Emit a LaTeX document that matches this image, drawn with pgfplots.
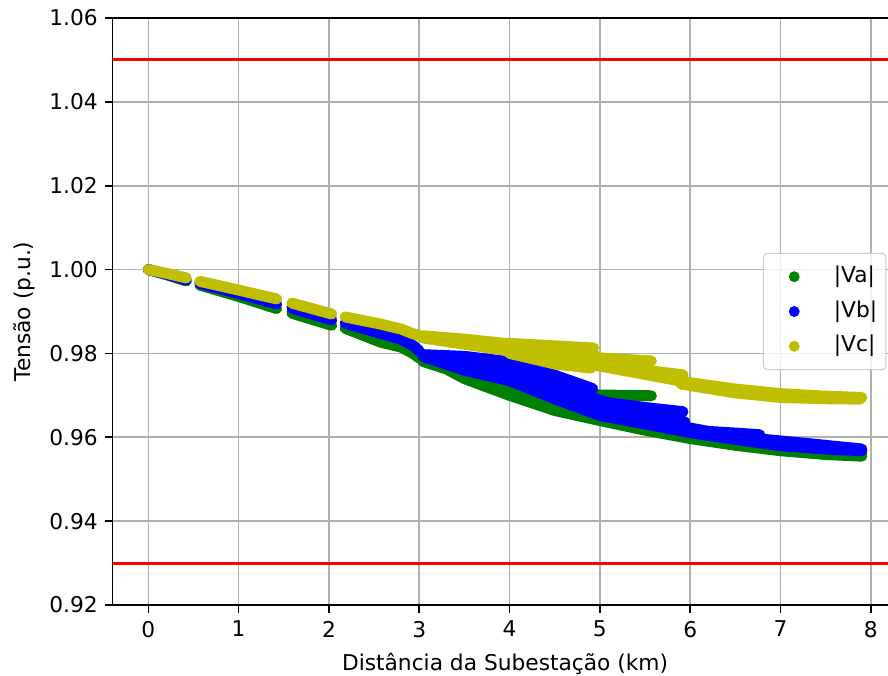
\documentclass[border=0pt]{standalone}
\usepackage{fontspec}
\setmainfont{DejaVu Sans}
\usepackage{pgfplots}
\pgfplotsset{compat=1.18}
\definecolor{cVa}{HTML}{008000}
\definecolor{cVb}{HTML}{0000FF}
\definecolor{cVc}{HTML}{BFBF00}
\definecolor{gridc}{HTML}{B0B0B0}
\definecolor{legc}{HTML}{CCCCCC}
\newcommand\fs{\fontsize{16.3pt}{19.6pt}\selectfont}
\pgfplotsset{sc/.style={line width=8.25pt, line cap=round, line join=round, mark=none, forget plot},
  dotlegend/.style={legend image code/.code={\path[draw=none,fill=none] (0pt,0pt) -- (46.2pt,0pt); \fill[draw=none, fill opacity=1] (16.5pt,0pt) circle (4.1pt);}}}
\begin{document}
\begin{tikzpicture}
\begin{axis}[
  scale only axis, width=588.6pt, height=440.25pt,
  xmin=-0.395, xmax=8.295, ymin=0.92, ymax=1.06,
  xtick={0,1,2,3,4,5,6,7,8},
  ytick={0.92,0.94,0.96,0.98,1.00,1.02,1.04,1.06},
  yticklabel={\pgfmathprintnumber[fixed,fixed zerofill,precision=2]{\tick}},
  /pgf/number format/assume math mode=true,
  tick pos=left, tick align=outside, major tick length=5.8pt,
  tick style={black, line width=1.2pt},
  axis line style={black, line width=1.2pt},
  grid=major, grid style={gridc, line width=1.2pt},
  ticklabel style={font=\fs, inner sep=0pt},
  yticklabel style={anchor=east, xshift=-5.2pt},
  xticklabel style={anchor=north, yshift=-5.9pt},
  xlabel={Distância da Subestação (km)},
  ylabel={Tensão (p.u.)},
  label style={font=\fs},
  xlabel style={at={(axis description cs:0.5,-0.112)}, anchor=base},
  ylabel style={at={(axis description cs:-0.113,0.5)}, anchor=center},
  legend style={at={(1,0.5)}, anchor=east, xshift=-8.25pt, font=\fs, draw=legc, line width=0.75pt, rounded corners=3pt, fill=white, fill opacity=0.8, draw opacity=1, text opacity=1, inner xsep=6.6pt, inner ysep=9.3pt, row sep=9.6pt, column sep=0pt, nodes={inner sep=0pt, text height=12.4pt, text depth=4.1pt}, cells={anchor=west}},
]
% limits
\addplot[red, line width=2.25pt, forget plot] coordinates {(-0.395,1.05) (8.295,1.05)};
\addplot[red, line width=2.25pt, forget plot] coordinates {(-0.395,0.93) (8.295,0.93)};
% |Va|
\addplot[sc, cVa] coordinates {(0,1.0000) (0.20,0.9988) (0.42,0.9973)};
\addplot[sc, cVa] coordinates {(0.57,0.9963) (1.00,0.9936) (1.42,0.9907)};
\addplot[sc, cVa] coordinates {(1.59,0.9896) (2.03,0.9867)};
\addplot[sc, cVa] coordinates {(2.18,0.9860) (2.57,0.9827) (2.80,0.9815) (2.93,0.9800) (3.00,0.9789)};
\addplot[sc, cVa] coordinates {(3.04,0.9781) (3.30,0.9763) (3.50,0.9740) (4.00,0.9700) (4.50,0.9664) (5.00,0.9640) (5.50,0.9617) (6.00,0.9597) (6.50,0.9581) (7.00,0.9568) (7.50,0.9559) (7.90,0.9555)};
\addplot[sc, cVa] coordinates {(3.04,0.9785) (3.50,0.9752) (4.00,0.9718) (4.50,0.9680) (5.00,0.9652) (5.50,0.9630) (6.00,0.9607) (6.50,0.9590) (7.00,0.9576) (7.50,0.9566) (7.90,0.9562)};
\addplot[sc, cVa] coordinates {(4.50,0.9712) (4.95,0.9701) (5.57,0.9699)};
% |Vb|
\addplot[sc, cVb] coordinates {(0,1.0000) (0.20,0.9989) (0.42,0.9975)};
\addplot[sc, cVb] coordinates {(0.57,0.9967) (1.00,0.9943) (1.42,0.9918)};
\addplot[sc, cVb] coordinates {(1.59,0.9908) (2.03,0.9880)};
\addplot[sc, cVb] coordinates {(2.18,0.9872) (2.57,0.9848) (2.80,0.9834) (2.93,0.9819) (3.00,0.9806)};
\addplot[sc, cVb] coordinates {(3.04,0.9797) (3.50,0.9793) (4.00,0.9780) (4.50,0.9748) (4.92,0.9716)};
\addplot[sc, cVb] coordinates {(3.04,0.9795) (3.50,0.9780) (4.00,0.9762) (4.50,0.9728) (4.90,0.9695) (5.10,0.9682) (5.50,0.9671) (5.92,0.9661)};
\addplot[sc, cVb] coordinates {(3.04,0.9794) (3.50,0.9768) (4.00,0.9748) (4.50,0.9710) (5.00,0.9668) (5.50,0.9649) (5.94,0.9637)};
\addplot[sc, cVb] coordinates {(3.04,0.9793) (3.50,0.9760) (4.00,0.9735) (4.50,0.9692) (5.00,0.9652) (5.50,0.9632) (6.00,0.9611) (6.50,0.9595) (7.00,0.9580) (7.50,0.9572) (7.90,0.9568)};
\addplot[sc, cVb] coordinates {(5.50,0.9641) (5.90,0.9626) (6.20,0.9614) (6.50,0.9610) (6.77,0.9606)};
\addplot[sc, cVb] coordinates {(6.77,0.9596) (7.30,0.9585) (7.90,0.9572)};
% |Vc|
\addplot[sc, cVc] coordinates {(0,1.0000) (0.20,0.9991) (0.42,0.9980)};
\addplot[sc, cVc] coordinates {(0.57,0.9972) (1.00,0.9951) (1.42,0.9930)};
\addplot[sc, cVc] coordinates {(1.59,0.9920) (2.03,0.9894)};
\addplot[sc, cVc] coordinates {(2.18,0.9887) (2.57,0.9870) (2.80,0.9858) (2.93,0.9847) (3.00,0.9843)};
\addplot[sc, cVc] coordinates {(3.04,0.9842) (3.50,0.9834) (3.90,0.9825) (4.50,0.9818) (4.93,0.9813)};
\addplot[sc, cVc] coordinates {(3.90,0.9816) (4.50,0.9807) (4.93,0.9802)};
\addplot[sc, cVc] coordinates {(3.50,0.9828) (4.00,0.9812) (4.50,0.9798) (4.93,0.9790) (5.57,0.9782)};
\addplot[sc, cVc] coordinates {(4.00,0.9800) (4.50,0.9775) (4.90,0.9765)};
\addplot[sc, cVc] coordinates {(4.50,0.9790) (5.00,0.9774) (5.50,0.9760) (5.92,0.9749)};
\addplot[sc, cVc] coordinates {(3.04,0.9837) (3.50,0.9822) (4.00,0.9806) (4.50,0.9786) (5.00,0.9770) (5.50,0.9750) (6.00,0.9730) (6.50,0.9715) (7.00,0.9704) (7.50,0.9698) (7.90,0.9695)};
\addplot[sc, cVc] coordinates {(5.90,0.9727) (6.50,0.9706) (7.00,0.9695) (7.50,0.9692) (7.88,0.9691)};
% legend
\addlegendimage{cVa, dotlegend}\addlegendentry{|Va|}
\addlegendimage{cVb, dotlegend}\addlegendentry{|Vb|}
\addlegendimage{cVc, dotlegend}\addlegendentry{|Vc|}
\end{axis}
\pgfresetboundingbox
\path[use as bounding box] (current axis.south west) ++(-84.5pt,-52.5pt) rectangle ++(666pt,506.25pt);
\end{tikzpicture}
\end{document}
